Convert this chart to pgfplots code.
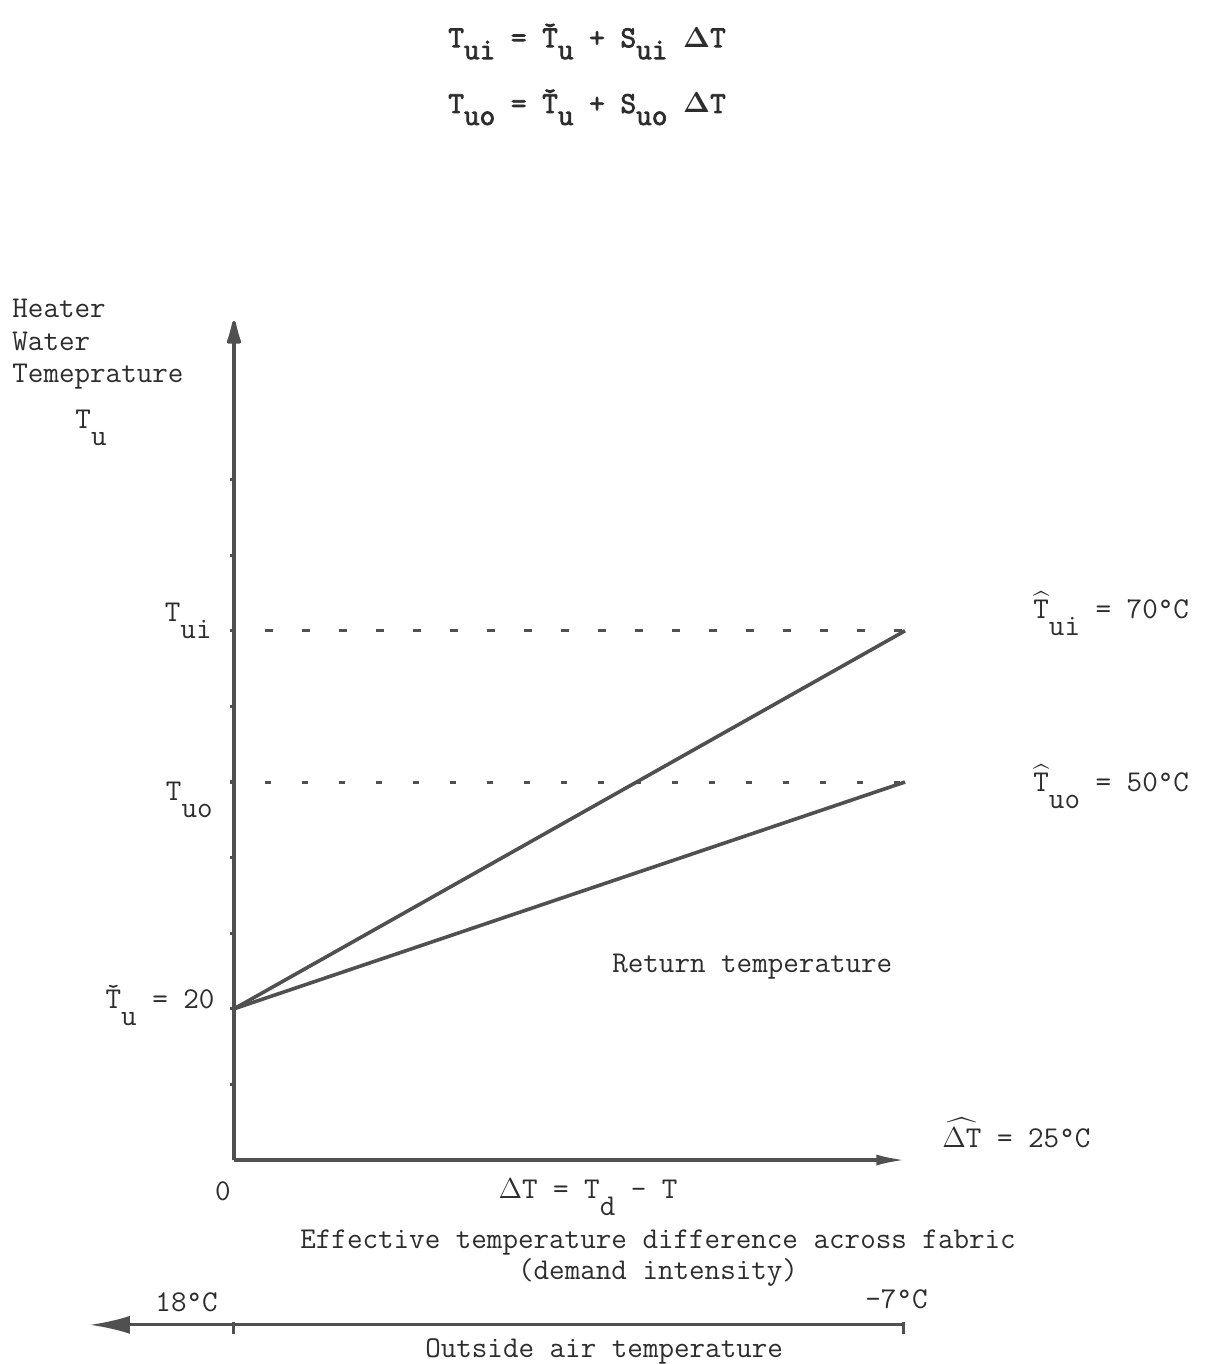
\documentclass[border=0pt]{standalone}
\usepackage[no-math]{fontspec}
\setmonofont{Latin Modern Mono}
\newfontfamily\eqfont[FakeBold=2.5]{Latin Modern Mono}
\usepackage{amsmath}
\usepackage{pgfplots}
\pgfplotsset{compat=1.18}
\usetikzlibrary{arrows.meta}
\definecolor{ink}{RGB}{80,80,80}
\definecolor{txt}{RGB}{45,45,45}
\newcommand{\sub}[1]{\raisebox{-8.5pt}{#1}}
\newcommand{\esub}[1]{\raisebox{-6pt}{#1}}

\begin{document}
\begin{tikzpicture}[
  lab/.style={font=\fontsize{15.1}{17}\selectfont\ttfamily, text=txt, inner sep=0pt},
  eq/.style={font=\fontsize{15.2}{18}\selectfont\eqfont, text=txt, inner sep=0pt}]
\begin{axis}[
  x=13.42pt, y=3.78pt,
  xmin=0, xmax=25.05, ymin=0, ymax=111,
  axis lines=left,
  axis line style={ink, line width=1.8pt},
  x axis line style={-{Latex[length=15pt,width=5.5pt]}},
  y axis line style={-{Latex[length=16pt,width=8pt,round]}},
  xtick=\empty,
  ytick={10,20,...,90},
  yticklabels={},
  tick align=outside,
  major tick length=2pt,
  tick style={ink, line width=1.6pt},
  clip=false,
]
% supply and return lines
\addplot[ink, line width=1.8pt] coordinates {(0,20) (25,70)};
\addplot[ink, line width=1.8pt] coordinates {(0,20) (25,50)};
% design levels
\addplot[ink, line width=1.6pt, dash pattern=on 4pt off 14.5pt] coordinates {(1.15,70) (25,70)};
\addplot[ink, line width=1.5pt, dash pattern=on 3pt off 15.5pt] coordinates {(1.15,50) (25,50)};

% outside air temperature scale
\draw[ink, line width=1.4pt, {Latex[length=20pt,width=9pt]}-] (axis cs:-5.37,-21.8) -- (axis cs:24.93,-21.8);
\draw[ink, line width=1.5pt] (axis cs:0,-21.4) -- (axis cs:0,-23.0);
\draw[ink, line width=1.5pt] (axis cs:24.93,-21.4) -- (axis cs:24.93,-23.0);

% equations on top
\node[eq, anchor=base west] at (axis cs:7.97,147.2) {T\esub{ui} = \v{T}\esub{u} + S\esub{ui} $\mathbf{\Delta}$T};
\node[eq, anchor=base west] at (axis cs:7.97,138.5) {T\esub{uo} = \v{T}\esub{u} + S\esub{uo} $\mathbf{\Delta}$T};

% y axis title
\node[lab, anchor=base west] at (axis cs:-8.27,111.4) {Heater};
\node[lab, anchor=base west] at (axis cs:-8.27,107.1) {Water};
\node[lab, anchor=base west] at (axis cs:-8.27,102.9) {Temeprature};
\node[lab, anchor=base west] at (axis cs:-5.92,96.8) {T\sub{u}};

% y axis labels
\node[lab, anchor=base east] at (axis cs:-0.82,71.2) {T\sub{ui}};
\node[lab, anchor=base east] at (axis cs:-0.78,47.6) {T\sub{uo}};
\node[lab, anchor=base east] at (axis cs:-0.71,20.1) {\v{T}\sub{u} = 20};

% right labels
\node[lab, anchor=base west] at (axis cs:29.77,71.6) {$\widehat{\hbox{T}}$\sub{ui} = 70°C};
\node[lab, anchor=base west] at (axis cs:29.77,48.7) {$\widehat{\hbox{T}}$\sub{uo} = 50°C};
\node[lab, anchor=base west] at (axis cs:26.38,1.72) {$\widehat{\Delta\hbox{T}}$ = 25°C};

\node[lab, anchor=base west] at (axis cs:14.08,24.87) {Return temperature};

% x axis labels
\node[lab, anchor=base] at (axis cs:-0.41,-5.3) {0};
\node[lab, anchor=base west] at (axis cs:9.84,-5.03) {$\Delta$T = T\sub{d} - T};
\node[lab, anchor=base] at (axis cs:15.80,-11.64) {Effective temperature difference across fabric};
\node[lab, anchor=base] at (axis cs:15.80,-15.74) {(demand intensity)};
\node[lab, anchor=base west] at (axis cs:-2.94,-20.1) {18°C};
\node[lab, anchor=base west] at (axis cs:23.51,-19.58) {-7°C};
\node[lab, anchor=base] at (axis cs:13.79,-26.06) {Outside air temperature};

% page frame
\path (axis cs:-8.718,-26.98) rectangle (axis cs:36.25,153.44);
\end{axis}
\end{tikzpicture}
\end{document}
